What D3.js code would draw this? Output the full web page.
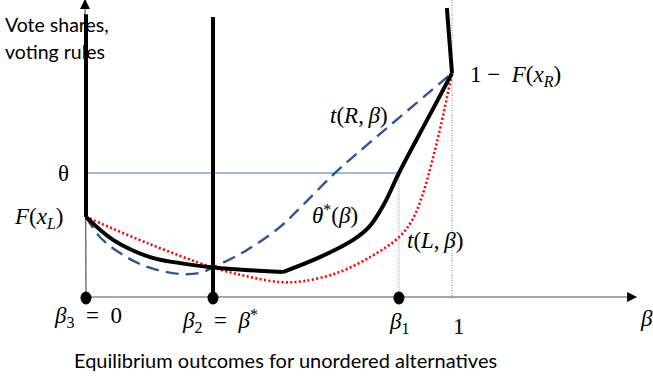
<!DOCTYPE html>
<html><head><meta charset="utf-8">
<script src="https://cdnjs.cloudflare.com/ajax/libs/d3/7.8.5/d3.min.js"></script>
<style>
body { margin: 0; background: #fff; }
.sans { font-family: Lato, sans-serif; font-size: 19.5px; fill: #000; }
.math { font-family: "Liberation Serif", "Times New Roman", serif; font-size: 23px; fill: #000; }
</style>
</head><body>
<script>
// values: [beta, vote share]
var thetaLeft = [[0, 0.279], [0.074, 0.199], [0.175, 0.139], [0.257, 0.118], [0.347, 0.103], [0.538, 0.087]];
var thetaRight = [[0.538, 0.087], [0.639, 0.139], [0.730, 0.199], [0.776, 0.248], [0.817, 0.330],
                  [0.855, 0.432], [0.932, 0.617], [1, 0.78]];
var tR = [[0, 0.279], [0.038, 0.209], [0.093, 0.153], [0.167, 0.105], [0.257, 0.080], [0.311, 0.084],
          [0.347, 0.103], [0.440, 0.164], [0.530, 0.244], [0.593, 0.321], [0.680, 0.432], [0.768, 0.530], [1, 0.78]];
var tL = [[0, 0.279], [0.167, 0.188], [0.347, 0.103], [0.440, 0.072], [0.530, 0.052], [0.593, 0.055],
          [0.686, 0.084], [0.776, 0.139], [0.852, 0.205], [0.890, 0.265], [0.918, 0.350], [0.945, 0.470],
          [0.970, 0.600], [1, 0.78]];
var betas = [0, 0.347, 0.855];       // beta3, beta2, beta1
var FxL = 0.279, theta = 0.432, oneMinusFxR = 0.78;
var leftTop = 0.985, midTop = 0.976, rightTop = [0.986, 1.007];
var xAxisEnd = 1.503, yAxisEnd = 1.035;

var W = 653, H = 381;
var x = d3.scaleLinear().domain([0, 1]).range([86, 452]);
var y = d3.scaleLinear().domain([0, 1]).range([297, 10]);

var svg = d3.select("body").append("svg").attr("width", W).attr("height", H);

var defs = svg.append("defs");
defs.append("marker").attr("id", "arr").attr("viewBox", "0 0 10 10")
    .attr("refX", 9).attr("refY", 5).attr("markerWidth", 10).attr("markerHeight", 10)
    .attr("markerUnits", "userSpaceOnUse").attr("orient", "auto")
  .append("path").attr("d", "M0,0L10,5L0,10Z").attr("fill", "#000");

// axes
svg.append("line").attr("x1", x(0)).attr("y1", y(0)).attr("x2", x(xAxisEnd)).attr("y2", y(0))
    .attr("stroke", "#555").attr("stroke-width", 1.2).attr("marker-end", "url(#arr)");
svg.append("line").attr("x1", x(0)).attr("y1", y(0)).attr("x2", x(0) - 1).attr("y2", y(yAxisEnd))
    .attr("stroke", "#555").attr("stroke-width", 1.2).attr("marker-end", "url(#arr)");

// dotted guide at beta = 1
svg.append("line").attr("x1", x(1)).attr("x2", x(1)).attr("y1", 0).attr("y2", y(0) + 3)
    .attr("stroke", "#666").attr("stroke-width", 0.8).attr("stroke-dasharray", "1,1.5");

// theta level and drop to beta1
svg.append("line").attr("x1", x(0)).attr("x2", x(betas[2])).attr("y1", y(theta)).attr("y2", y(theta))
    .attr("stroke", "#4472c4").attr("stroke-width", 1);
svg.append("line").attr("x1", x(betas[2])).attr("x2", x(betas[2])).attr("y1", y(theta)).attr("y2", y(0))
    .attr("stroke", "#8faadc").attr("stroke-width", 1).attr("stroke-dasharray", "1,1");

var line = d3.line().x(function(d) { return x(d[0]); }).y(function(d) { return y(d[1]); })
    .curve(d3.curveCatmullRom.alpha(0.5));

svg.append("path").attr("d", line(tL)).attr("fill", "none")
    .attr("stroke", "#ff0000").attr("stroke-width", 2.6).attr("stroke-dasharray", "2,2.4");
svg.append("path").attr("d", line(tR)).attr("fill", "none")
    .attr("stroke", "#2f5597").attr("stroke-width", 2.4).attr("stroke-dasharray", "13,7");

// equilibrium voting rule theta*(beta)
function thickPath(d) {
  return svg.append("path").attr("d", d).attr("fill", "none")
      .attr("stroke", "#000").attr("stroke-width", 4).attr("stroke-linejoin", "round");
}
thickPath(line(thetaLeft));
thickPath(line(thetaRight));
thickPath(d3.line()([[x(0), y(FxL)], [x(0), y(leftTop)]]));
thickPath(d3.line()([[x(betas[1]), y(0)], [x(betas[1]), y(midTop)]]));
thickPath(d3.line()([[x(1), y(oneMinusFxR)], [x(rightTop[0]), y(rightTop[1])]]));

// dots on the beta axis
svg.selectAll("ellipse.b").data(betas).enter().append("ellipse")
    .attr("cx", function(d) { return x(d); }).attr("cy", y(0) + 1)
    .attr("rx", 5.5).attr("ry", 6.5).attr("fill", "#000");

// texts
svg.append("text").attr("class", "sans").attr("x", 5).attr("y", 32).text("Vote shares,");
svg.append("text").attr("class", "sans").attr("x", 5).attr("y", 59).text("voting rules");
svg.append("text").attr("class", "sans").attr("x", 74).attr("y", 368).style("font-size", "20px")
    .text("Equilibrium outcomes for unordered alternatives");

function mathText(px, py, parts) {
  var t = svg.append("text").attr("class", "math").attr("x", px).attr("y", py);
  parts.forEach(function(p) {
    var s = t.append("tspan").text(p[0]);
    if (p[1] == "i") s.style("font-style", "italic");
    if (p[2] == "sub") s.style("font-size", "16px").attr("dy", 5);
    if (p[2] == "up") s.attr("dy", -5);
    if (p[2] == "sup") s.style("font-size", "16px").attr("dy", -8);
    if (p[2] == "down") s.attr("dy", 8);
  });
  return t;
}

mathText(58, y(theta) + 8, [["θ"]]);
mathText(15, y(FxL) + 7, [["F", "i"], ["("], ["x", "i"], ["L", "i", "sub"], [")", "", "up"]]);
mathText(x(1) + 18, y(oneMinusFxR) + 9, [["1 \u2212\u2002"], ["F", "i"], ["("], ["x", "i"], ["R", "i", "sub"], [")", "", "up"]]);
mathText(330, 123, [["t", "i"], ["("], ["R", "i"], [",\u2009"], ["β", "i"], [")"]]);
mathText(312, 223, [["θ", "i"], ["*", "", "sup"], ["(", "", "down"], ["β", "i"], [")"]]);
mathText(407, 248, [["t", "i"], ["("], ["L", "i"], [",\u2009"], ["β", "i"], [")"]]);

mathText(55, 323, [["β", "i"], ["3", "", "sub"], ["\u2002=\u20020", "", "up"]]);
mathText(183, 328, [["β", "i"], ["2", "", "sub"], ["\u2002=\u2002", "", "up"], ["β", "i"], ["*", "", "sup"]]);
mathText(390, 329, [["β", "i"], ["1", "", "sub"]]);
mathText(453, 334, [["1"]]);
mathText(641, 326, [["β", "i"]]);
</script>
</body></html>
